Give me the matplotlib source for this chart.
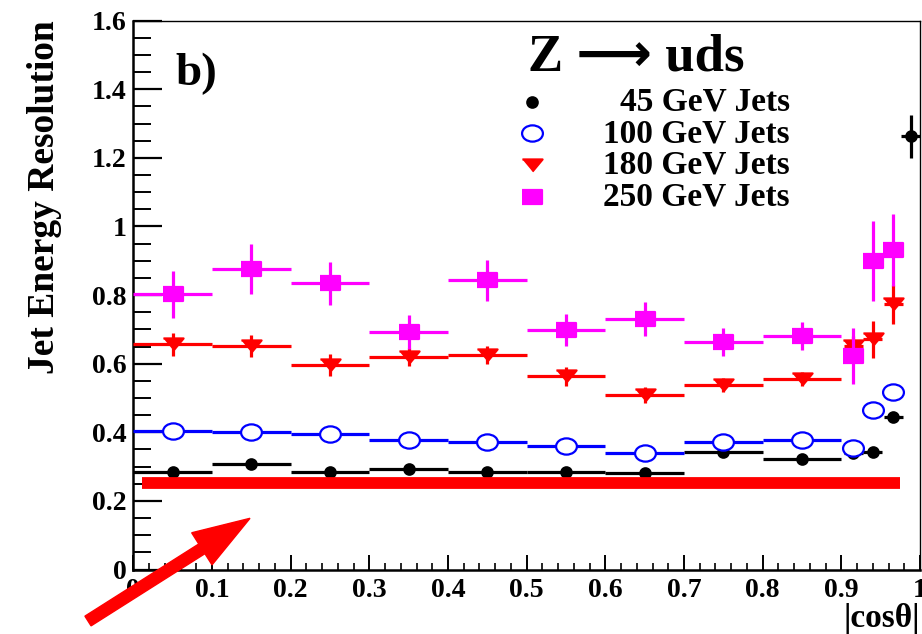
import numpy as np
import matplotlib
matplotlib.use('Agg')
import matplotlib.pyplot as plt
from matplotlib.path import Path
from matplotlib.transforms import Affine2D, IdentityTransform
from matplotlib.ticker import MultipleLocator, FuncFormatter
from matplotlib.patches import FancyArrow

# ==================================================
#   Data
x_central = [0.05, 0.15, 0.25, 0.35, 0.45, 0.55, 0.65, 0.75, 0.85]
x_forward = [0.915, 0.94, 0.966]
x_last = [0.988]
bin_half = 0.05
fwd_half = 0.012

res_45 = [0.283, 0.308, 0.283, 0.294, 0.283, 0.284, 0.282, 0.342, 0.321, 0.340, 0.342, 0.444, 1.263]
err_45 = [0.005, 0.006, 0.005, 0.005, 0.005, 0.005, 0.005, 0.006, 0.006, 0.008, 0.008, 0.012, 0.063]
res_100 = [0.403, 0.402, 0.396, 0.377, 0.372, 0.360, 0.340, 0.373, 0.377, 0.353, 0.466, 0.517]
err_100 = [0.006, 0.006, 0.006, 0.006, 0.006, 0.006, 0.006, 0.006, 0.006, 0.010, 0.012, 0.014]
res_180 = [0.656, 0.651, 0.596, 0.619, 0.626, 0.563, 0.508, 0.537, 0.556, 0.651, 0.671, 0.773]
err_180 = [0.033, 0.032, 0.032, 0.026, 0.027, 0.027, 0.024, 0.020, 0.021, 0.030, 0.053, 0.056]
res_250 = [0.802, 0.877, 0.834, 0.692, 0.843, 0.698, 0.731, 0.663, 0.682, 0.622, 0.899, 0.931]
err_250 = [0.068, 0.073, 0.062, 0.050, 0.059, 0.046, 0.049, 0.041, 0.041, 0.081, 0.117, 0.104]

labels = ['45 GeV Jets', '100 GeV Jets', '180 GeV Jets', '250 GeV Jets']

# red highlight drawn over the plot
mark_bar_x = [0.011, 0.975]
mark_bar_y = [0.251, 0.251]

# ==================================================
plt.rcParams['font.family'] = ['Liberation Serif', 'STIXGeneral', 'DejaVu Sans']
plt.rcParams['font.weight'] = 'bold'
plt.rcParams['axes.labelweight'] = 'bold'

fig = plt.figure(figsize=(9.22, 6.34), dpi=100)
ax = fig.add_axes([0.1446, 0.1017, 0.8532, 0.8657])

# marker shapes (ROOT style, a bit flattened)
m_circ = Path.unit_circle().transformed(Affine2D().scale(1, 0.78))
m_tri = [(-1, 0.6), (1, 0.6), (0, -0.6)]
m_sq = [(-1, -0.7), (1, -0.7), (1, 0.7), (-1, 0.7)]

n_c = len(x_central)
x45 = x_central + x_forward + x_last
xe45 = [bin_half] * n_c + [fwd_half] * (len(x_forward) + len(x_last))
x_other = x_central + x_forward
xe_other = [bin_half] * n_c + [fwd_half] * len(x_forward)

styles = [
    (x45, xe45, res_45, err_45, 'black', 'o', 7.5, 'black'),
    (x_other, xe_other, res_100, err_100, 'blue', m_circ, 15, 'white'),
    (x_other, xe_other, res_180, err_180, 'red', m_tri, 14.5, 'red'),
    (x_other, xe_other, res_250, err_250, 'magenta', m_sq, 15, 'magenta'),
]
for i, (xx, xe, yy, ye, col, mk, ms, mfc) in enumerate(styles):
    ax.errorbar(xx, yy, xerr=xe, yerr=ye, fmt='none', ecolor=col,
                elinewidth=2.3, capsize=0, zorder=2 + i)
    ax.plot(xx, yy, linestyle='none', marker=mk, markersize=ms, color=col,
            markerfacecolor=mfc, markeredgecolor=col, markeredgewidth=1.6,
            zorder=2.5 + i)

ax.plot(mark_bar_x, mark_bar_y, color='red', lw=8.5, solid_capstyle='butt', zorder=10)

ax.set_xlim(0, 1)
ax.set_ylim(0, 1.6)
ax.xaxis.set_major_locator(MultipleLocator(0.1))
ax.xaxis.set_minor_locator(MultipleLocator(0.02))
ax.yaxis.set_major_locator(MultipleLocator(0.2))
ax.yaxis.set_minor_locator(MultipleLocator(0.05))
fmt = FuncFormatter(lambda v, p: '%g' % round(v, 2))
ax.xaxis.set_major_formatter(fmt)
ax.yaxis.set_major_formatter(fmt)

ax.tick_params(axis='y', which='major', direction='in', length=21, width=1.6,
               labelsize=20, pad=5, right=False)
ax.tick_params(axis='y', which='minor', direction='in', length=13, width=1.4, right=False)
ax.tick_params(axis='x', which='major', direction='in', length=10.5, width=1.4,
               labelsize=20, pad=6, top=False)
ax.tick_params(axis='x', which='minor', direction='in', length=5, width=1.2, top=False)
for s in ['left', 'bottom']:
    ax.spines[s].set_linewidth(1.8)
for s in ['top', 'right']:
    ax.spines[s].set_linewidth(1.0)

ax.set_ylabel('Jet Energy Resolution', fontsize=27, loc='top')
ax.yaxis.set_label_coords(-0.0906, 1.0)
ax.set_xlabel('|cosθ|', fontsize=24, loc='right')
ax.xaxis.set_label_coords(1.0, -0.061)

ax.text(0.053, 0.883, 'b)', transform=ax.transAxes, fontsize=34,
        ha='left', va='baseline')
ax.text(0.502, 0.910, 'Z ⟶ uds', transform=ax.transAxes,
        fontsize=38, ha='left', va='baseline')

# legend, ROOT style
leg_mk_y = [0.852, 0.795, 0.737, 0.679]
leg_txt_y = [0.837, 0.778, 0.721, 0.664]
for i, (xx, xe, yy, ye, col, mk, ms, mfc) in enumerate(styles):
    ax.plot([0.5064], [leg_mk_y[i]], transform=ax.transAxes, linestyle='none',
            marker=mk, markersize=ms, color=col, markerfacecolor=mfc,
            markeredgecolor=col, markeredgewidth=1.6, clip_on=False)
    ax.text(0.8347, leg_txt_y[i], labels[i], transform=ax.transAxes,
            fontsize=24, ha='right', va='baseline')

# red pointer arrow (figure pixels)
fig.add_artist(FancyArrow(88, 13, 162, 102.7, width=11.5, head_width=38,
                          head_length=57, length_includes_head=True,
                          color='red', transform=IdentityTransform(),
                          clip_on=False, zorder=20))

fig.savefig('out.png', dpi=100)
